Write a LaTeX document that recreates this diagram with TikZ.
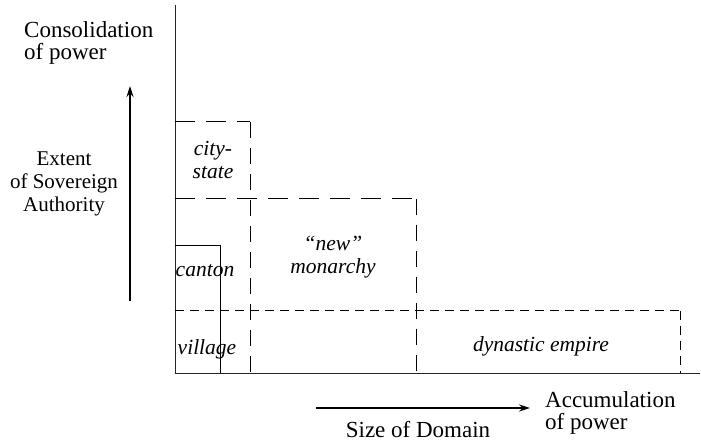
\documentclass[tikz,border=0pt]{standalone}
\usepackage{fontspec}
\setmainfont{Liberation Serif}
\usetikzlibrary{arrows.meta}
\begin{document}
\begin{tikzpicture}[x=1pt,y=-1pt,
  axis/.style={line width=1pt,black!85},
  longdash/.style={line width=1pt,dash pattern=on 20pt off 11pt},
  vdash/.style={line width=0.9pt,dash pattern=on 16pt off 10pt},
  shortdash/.style={line width=1pt,dash pattern=on 9pt off 6pt},
  solidbox/.style={line width=1pt},
  lbl/.style={font=\fontsize{23}{22}\selectfont,align=center,inner sep=0pt},
  ital/.style={font=\fontsize{21.5}{22.5}\selectfont\itshape,align=center,inner sep=0pt},
  arr/.style={line width=1.1pt,-{Stealth[length=11pt,width=7pt]}}]
\useasboundingbox (0,0) rectangle (701,443);
% axes
\coordinate (O) at (175,373);
\coordinate (Ytop) at (175,5);
\coordinate (Xend) at (700,373);
\draw[axis] (Ytop) -- (O) -- (Xend);
% city-state
\coordinate (cs1) at (175,122); \coordinate (cs2) at (250,122); \coordinate (cs3) at (250,373);
\draw[longdash] (cs1) -- (cs2);
\draw[vdash] (cs2) -- (cs3);
% new monarchy
\coordinate (nm1) at (175,199); \coordinate (nm2) at (416,199); \coordinate (nm3) at (416,373);
\draw[longdash] (nm1) -- (nm2);
\draw[vdash] (nm2) -- (nm3);
% canton
\coordinate (ct1) at (175,246); \coordinate (ct2) at (220,246); \coordinate (ct3) at (220,373);
\draw[solidbox] (ct1) -- (ct2) -- (ct3);
% dynastic empire
\coordinate (de1) at (175,311); \coordinate (de2) at (680,311); \coordinate (de3) at (680,373);
\draw[shortdash] (de1) -- (de2);
\draw[shortdash] (de2) -- (de3);
% labels
\node[lbl,align=left,anchor=north west] (cons) at (24,21) {Consolidation\\of power};
\node[lbl,font=\fontsize{21}{23}\selectfont] (ext) at (64,184) {Extent\\of Sovereign\\Authority};
\node[ital] (city) at (213,160) {city-\\state};
\node[ital] (newm) at (333,257) {``new''\\monarchy};
\node[ital,anchor=base] (canton) at (205,277) {canton};
\node[ital,anchor=base] (village) at (207,355) {village};
\node[ital,anchor=base] (dyn) at (541,352) {dynastic empire};
\node[lbl,align=left,anchor=north west] (acc) at (545,391) {Accumulation\\of power};
\node[lbl,anchor=base] (size) at (418,437) {Size of Domain};
% arrows
\coordinate (va1) at (130,301); \coordinate (va2) at (130,86);
\draw[arr] (va1) -- (va2);
\coordinate (ha1) at (316,408); \coordinate (ha2) at (530,408);
\draw[arr] (ha1) -- (ha2);
\end{tikzpicture}
\end{document}
